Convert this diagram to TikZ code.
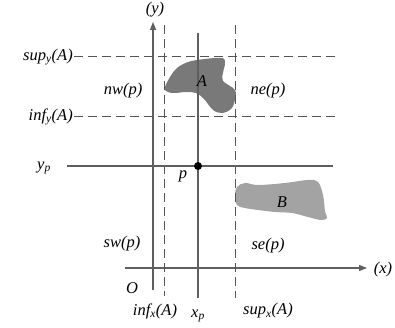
\documentclass[tikz,border=0pt]{standalone}
\usepackage{fontspec}
\setmainfont{Liberation Serif}
\usetikzlibrary{arrows.meta}
\definecolor{axisgray}{RGB}{95,95,95}
\definecolor{dashgray}{RGB}{85,85,85}
\definecolor{regiona}{RGB}{110,110,110}
\definecolor{regionb}{RGB}{155,155,155}
\tikzset{
  axisline/.style={line width=1.2pt, axisgray, -{Triangle[length=8pt, width=6pt]}},
  gridline/.style={line width=1.1pt, axisgray},
  bound/.style={line width=1pt, dashgray, dash pattern=on 9pt off 5pt},
  lbl/.style={font=\fontsize{16.5}{18}\selectfont\itshape, inner sep=1pt},
  region/.style={draw=none, fill opacity=0.92},
  pt/.style={circle, fill=black, minimum size=8pt, inner sep=0pt}
}

\begin{document}
\begin{tikzpicture}[x=1pt, y=-1pt]
\useasboundingbox (0,0) rectangle (395,328);
% regions
\fill[region, regiona] plot[smooth cycle, tension=0.6] coordinates {
  (165,87) (175,70) (188,62) (205,59) (222,58) (225,63) (223,73) (223,81)
  (235,90) (235,100) (231,109) (222,113) (213,110) (204,99) (196,93)
  (186,92) (175,93) (168,92)};
\fill[region, regionb] plot[smooth cycle, tension=0.6] coordinates {
  (237,187) (245,183) (258,185) (285,183) (308,180) (318,182) (323,195)
  (325,211) (327,218) (321,220) (308,217) (292,213) (275,212) (258,210)
  (245,208) (237,205) (235,195)};
% axes
\coordinate (xs) at (125,268);
\coordinate (xe) at (367,268);
\coordinate (ys) at (153,290);
\coordinate (ye) at (153,22);
\draw[axisline] (xs) -- (xe);
\draw[axisline] (ys) -- (ye);
\node[lbl] (xlab) at (383,270) {(x)};
\node[lbl] (ylab) at (155,10) {(y)};
\node[lbl] (orig) at (132,288) {O};
% bounds of A
\coordinate (infxt) at (164,25);
\coordinate (infxb) at (164,296);
\coordinate (supxt) at (235,25);
\coordinate (supxb) at (235,298);
\node[lbl, anchor=east] (supy) at (74,57) {sup\textsubscript{y}(A)};
\node[lbl, anchor=east] (infy) at (74,117) {inf\textsubscript{y}(A)};
\coordinate (supye) at (337,57);
\coordinate (infye) at (337,117);
\draw[bound] (infxt) -- (infxb);
\draw[bound] (supxt) -- (supxb);
\draw[bound] (supy.east) -- (supye);
\draw[bound] (infy.east) -- (infye);
\node[lbl] (infx) at (155,311) {inf\textsubscript{x}(A)};
\node[lbl] (supx) at (268,311) {sup\textsubscript{x}(A)};
% lines through p
\coordinate (ypw) at (67,166);
\coordinate (ype) at (333,166);
\coordinate (xpt) at (198,33);
\coordinate (xpb) at (198,298);
\draw[gridline] (ypw) -- (ype);
\draw[gridline] (xpt) -- (xpb);
\node[lbl] (yp) at (44,168) {y\textsubscript{p}};
\node[lbl] (xp) at (198,316) {x\textsubscript{p}};
\node[pt] (p) at (198,166) {};
\node[lbl] (plab) at (183,176) {p};
% quadrants
\node[lbl] (nw) at (123,91) {nw(p)};
\node[lbl] (ne) at (268,91) {ne(p)};
\node[lbl] (sw) at (122,244) {sw(p)};
\node[lbl] (se) at (268,246) {se(p)};
\node[lbl] (alab) at (202,81) {A};
\node[lbl] (blab) at (282,202) {B};
\end{tikzpicture}
\end{document}
